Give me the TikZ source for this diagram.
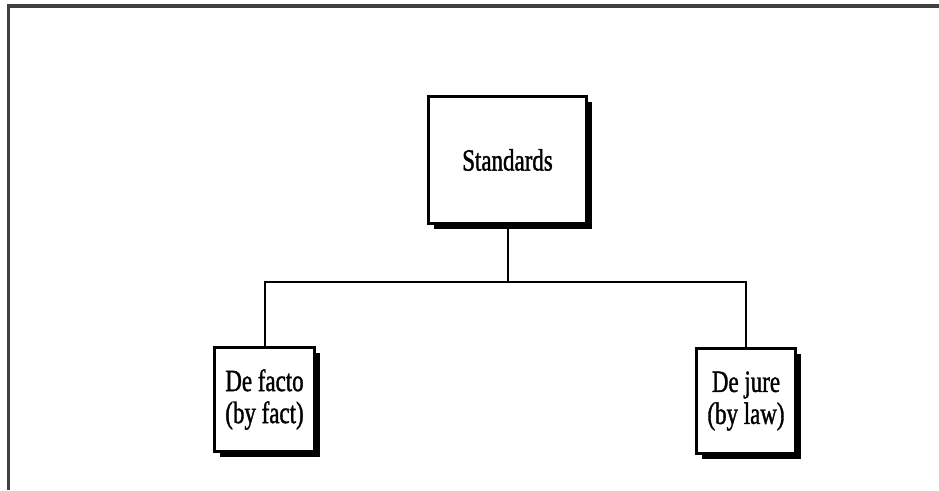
\documentclass[tikz,border=0pt]{standalone}
\usepackage{fontspec}
\setmainfont{Liberation Serif}
\newfontfamily\labelfont[FakeStretch=0.74,FakeBold=1.2]{Liberation Serif}
\usetikzlibrary{shadows}
\begin{document}
\begin{tikzpicture}[x=1pt,y=-1pt,
  box/.style={draw, line width=3pt, fill=white, inner sep=0pt,
    align=center, font=\labelfont\fontsize{31}{32}\selectfont,
    drop shadow={shadow xshift=5pt, shadow yshift=-5pt, fill=black, opacity=1}},
  link/.style={line width=2pt},
  frame/.style={line width=3.5pt, draw=black!75}]
  \useasboundingbox (0,0) rectangle (939,490);
  % page frame, open on the right and bottom
  \draw[frame] (8.5,490) -- (8.5,6) -- (939,6);
  % boxes
  \node[box, minimum width=158pt, minimum height=127pt] (std) at (507.5,160) {Standards};
  \node[box, minimum width=100pt, minimum height=104pt] (fact) at (264.5,399.5) {De facto\\(by fact)};
  \node[box, minimum width=99pt, minimum height=105pt] (jure) at (746,401) {De jure\\(by law)};
  % connectors
  \coordinate (bus) at (507.5,282);
  \draw[link] (std.south) -- (bus);
  \draw[link] (fact.north) |- (bus) -| (jure.north);
\end{tikzpicture}
\end{document}
